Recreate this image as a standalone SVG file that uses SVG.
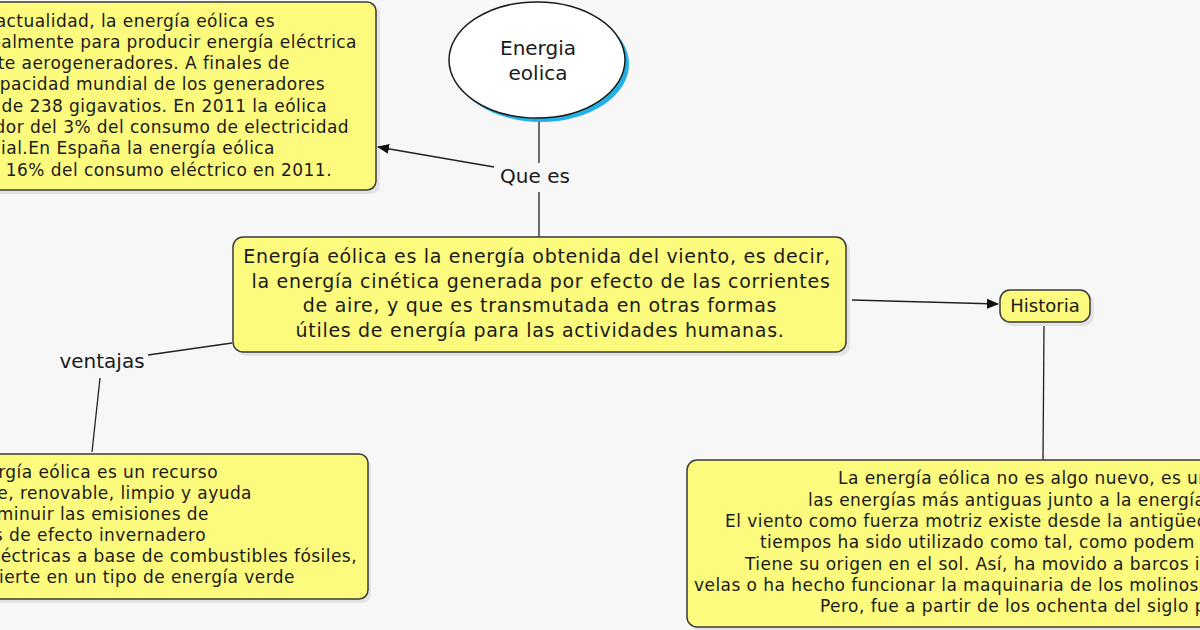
<svg xmlns="http://www.w3.org/2000/svg" width="1200" height="630" viewBox="0 0 1200 630">
<style>
.box{fill:#fdfb7e;stroke:#3a3a3a;stroke-width:1.5}
.t{font-family:"DejaVu Sans",Verdana,sans-serif;fill:#1a1a1a}
.s16{font-size:17px;letter-spacing:0.45px}
.s18{font-size:19px;letter-spacing:0.7px}
.lbl{font-family:"DejaVu Sans",Verdana,sans-serif;font-size:20px;fill:#1a1a1a}
.ln{stroke:#222;stroke-width:1.3;fill:none}
.shadow{fill:#000;opacity:0.08}
</style>
<defs>
<marker id="ah" viewBox="0 0 12 10" refX="11" refY="5" markerWidth="12" markerHeight="10" markerUnits="userSpaceOnUse" orient="auto">
<path d="M0,0 L12,5 L0,10 Z" fill="#111"/>
</marker>
</defs>
<rect width="1200" height="630" fill="#f7f7f7"/>

<g id="connectors">
<line class="ln" x1="539" y1="118" x2="539" y2="163"/>
<line class="ln" x1="539" y1="192" x2="539" y2="237"/>
<line class="ln" x1="494" y1="167" x2="378" y2="147" marker-end="url(#ah)"/>
<line class="ln" x1="852" y1="300" x2="998" y2="304" marker-end="url(#ah)"/>
<line class="ln" x1="1044" y1="326" x2="1043" y2="460"/>
<line class="ln" x1="232" y1="343" x2="148" y2="355"/>
<line class="ln" x1="100" y1="378" x2="92" y2="452"/>
</g>

<g id="node-energia-eolica">
<ellipse cx="541" cy="64" rx="88" ry="58" fill="#22b1e6"/>
<ellipse cx="537" cy="60" rx="88" ry="58" fill="#ffffff" stroke="#1a1a1a" stroke-width="1.5"/>
<text class="lbl" x="538" y="55" text-anchor="middle">Energia</text>
<text class="lbl" x="538" y="80" text-anchor="middle">eolica</text>
</g>

<g id="label-que-es">
<text class="lbl" x="535" y="183" text-anchor="middle">Que es</text>
</g>

<g id="node-actualidad">
<rect class="shadow" x="-20" y="5" width="400" height="189" rx="9"/>
<rect class="box" x="-20" y="2" width="396" height="188" rx="9"/>
<g class="t s16" text-anchor="end">
<text x="275" y="27">actualidad, la energía eólica es</text>
<text x="357" y="48">ipalmente para producir energía eléctrica</text>
<text x="290" y="69">te aerogeneradores. A finales de</text>
<text x="325" y="90">apacidad mundial de los generadores</text>
<text x="327" y="112">de 238 gigavatios. En 2011 la eólica</text>
<text x="349" y="133">dor del 3% del consumo de electricidad</text>
<text x="275" y="154">dial.En España la energía eólica</text>
<text x="332" y="176">16% del consumo eléctrico en 2011.</text>
</g>
</g>

<g id="node-definicion">
<rect class="shadow" x="236" y="240" width="614" height="116" rx="10"/>
<rect class="box" x="233" y="237" width="613" height="115" rx="10"/>
<g class="t s18" text-anchor="middle">
<text x="537" y="263">Energía eólica es la energía obtenida del viento, es decir,</text>
<text x="541" y="288">la energía cinética generada por efecto de las corrientes</text>
<text x="540" y="312">de aire, y que es transmutada en otras formas</text>
<text x="540" y="337">útiles de energía para las actividades humanas.</text>
</g>
</g>

<g id="node-historia">
<rect class="shadow" x="1002" y="293" width="92" height="33" rx="10"/>
<rect class="box" x="1000" y="290" width="90" height="32" rx="10"/>
<text class="t" font-size="18" x="1045" y="312" text-anchor="middle">Historia</text>
</g>

<g id="label-ventajas">
<text class="lbl" x="102" y="368" text-anchor="middle" font-size="21">ventajas</text>
</g>

<g id="node-ventajas">
<rect class="shadow" x="-20" y="457" width="391" height="146" rx="9"/>
<rect class="box" x="-20" y="454" width="388" height="145" rx="9"/>
<g class="t s16" text-anchor="end">
<text x="218" y="478">rgía eólica es un recurso</text>
<text x="252" y="499">e, renovable, limpio y ayuda</text>
<text x="209" y="520">minuir las emisiones de</text>
<text x="206" y="541">s de efecto invernadero</text>
<text x="357" y="562">léctricas a base de combustibles fósiles,</text>
<text x="295" y="583">rierte en un tipo de energía verde</text>
</g>
</g>

<g id="node-historia-texto">
<rect class="shadow" x="690" y="463" width="540" height="168" rx="10"/>
<rect class="box" x="687" y="460" width="540" height="167" rx="10"/>
<g class="t s16">
<text x="838" y="484">La energía eólica no es algo nuevo, es un</text>
<text x="808" y="506">las energías más antiguas junto a la energía</text>
<text x="725" y="527">El viento como fuerza motriz existe desde la antigüedad</text>
<text x="760" y="548">tiempos ha sido utilizado como tal, como podem</text>
<text x="745" y="570">Tiene su origen en el sol. Así, ha movido a barcos i</text>
<text x="694" y="591">velas o ha hecho funcionar la maquinaria de los molinos</text>
<text x="820" y="612">Pero, fue a partir de los ochenta del siglo p</text>
</g>
</g>
</svg>
